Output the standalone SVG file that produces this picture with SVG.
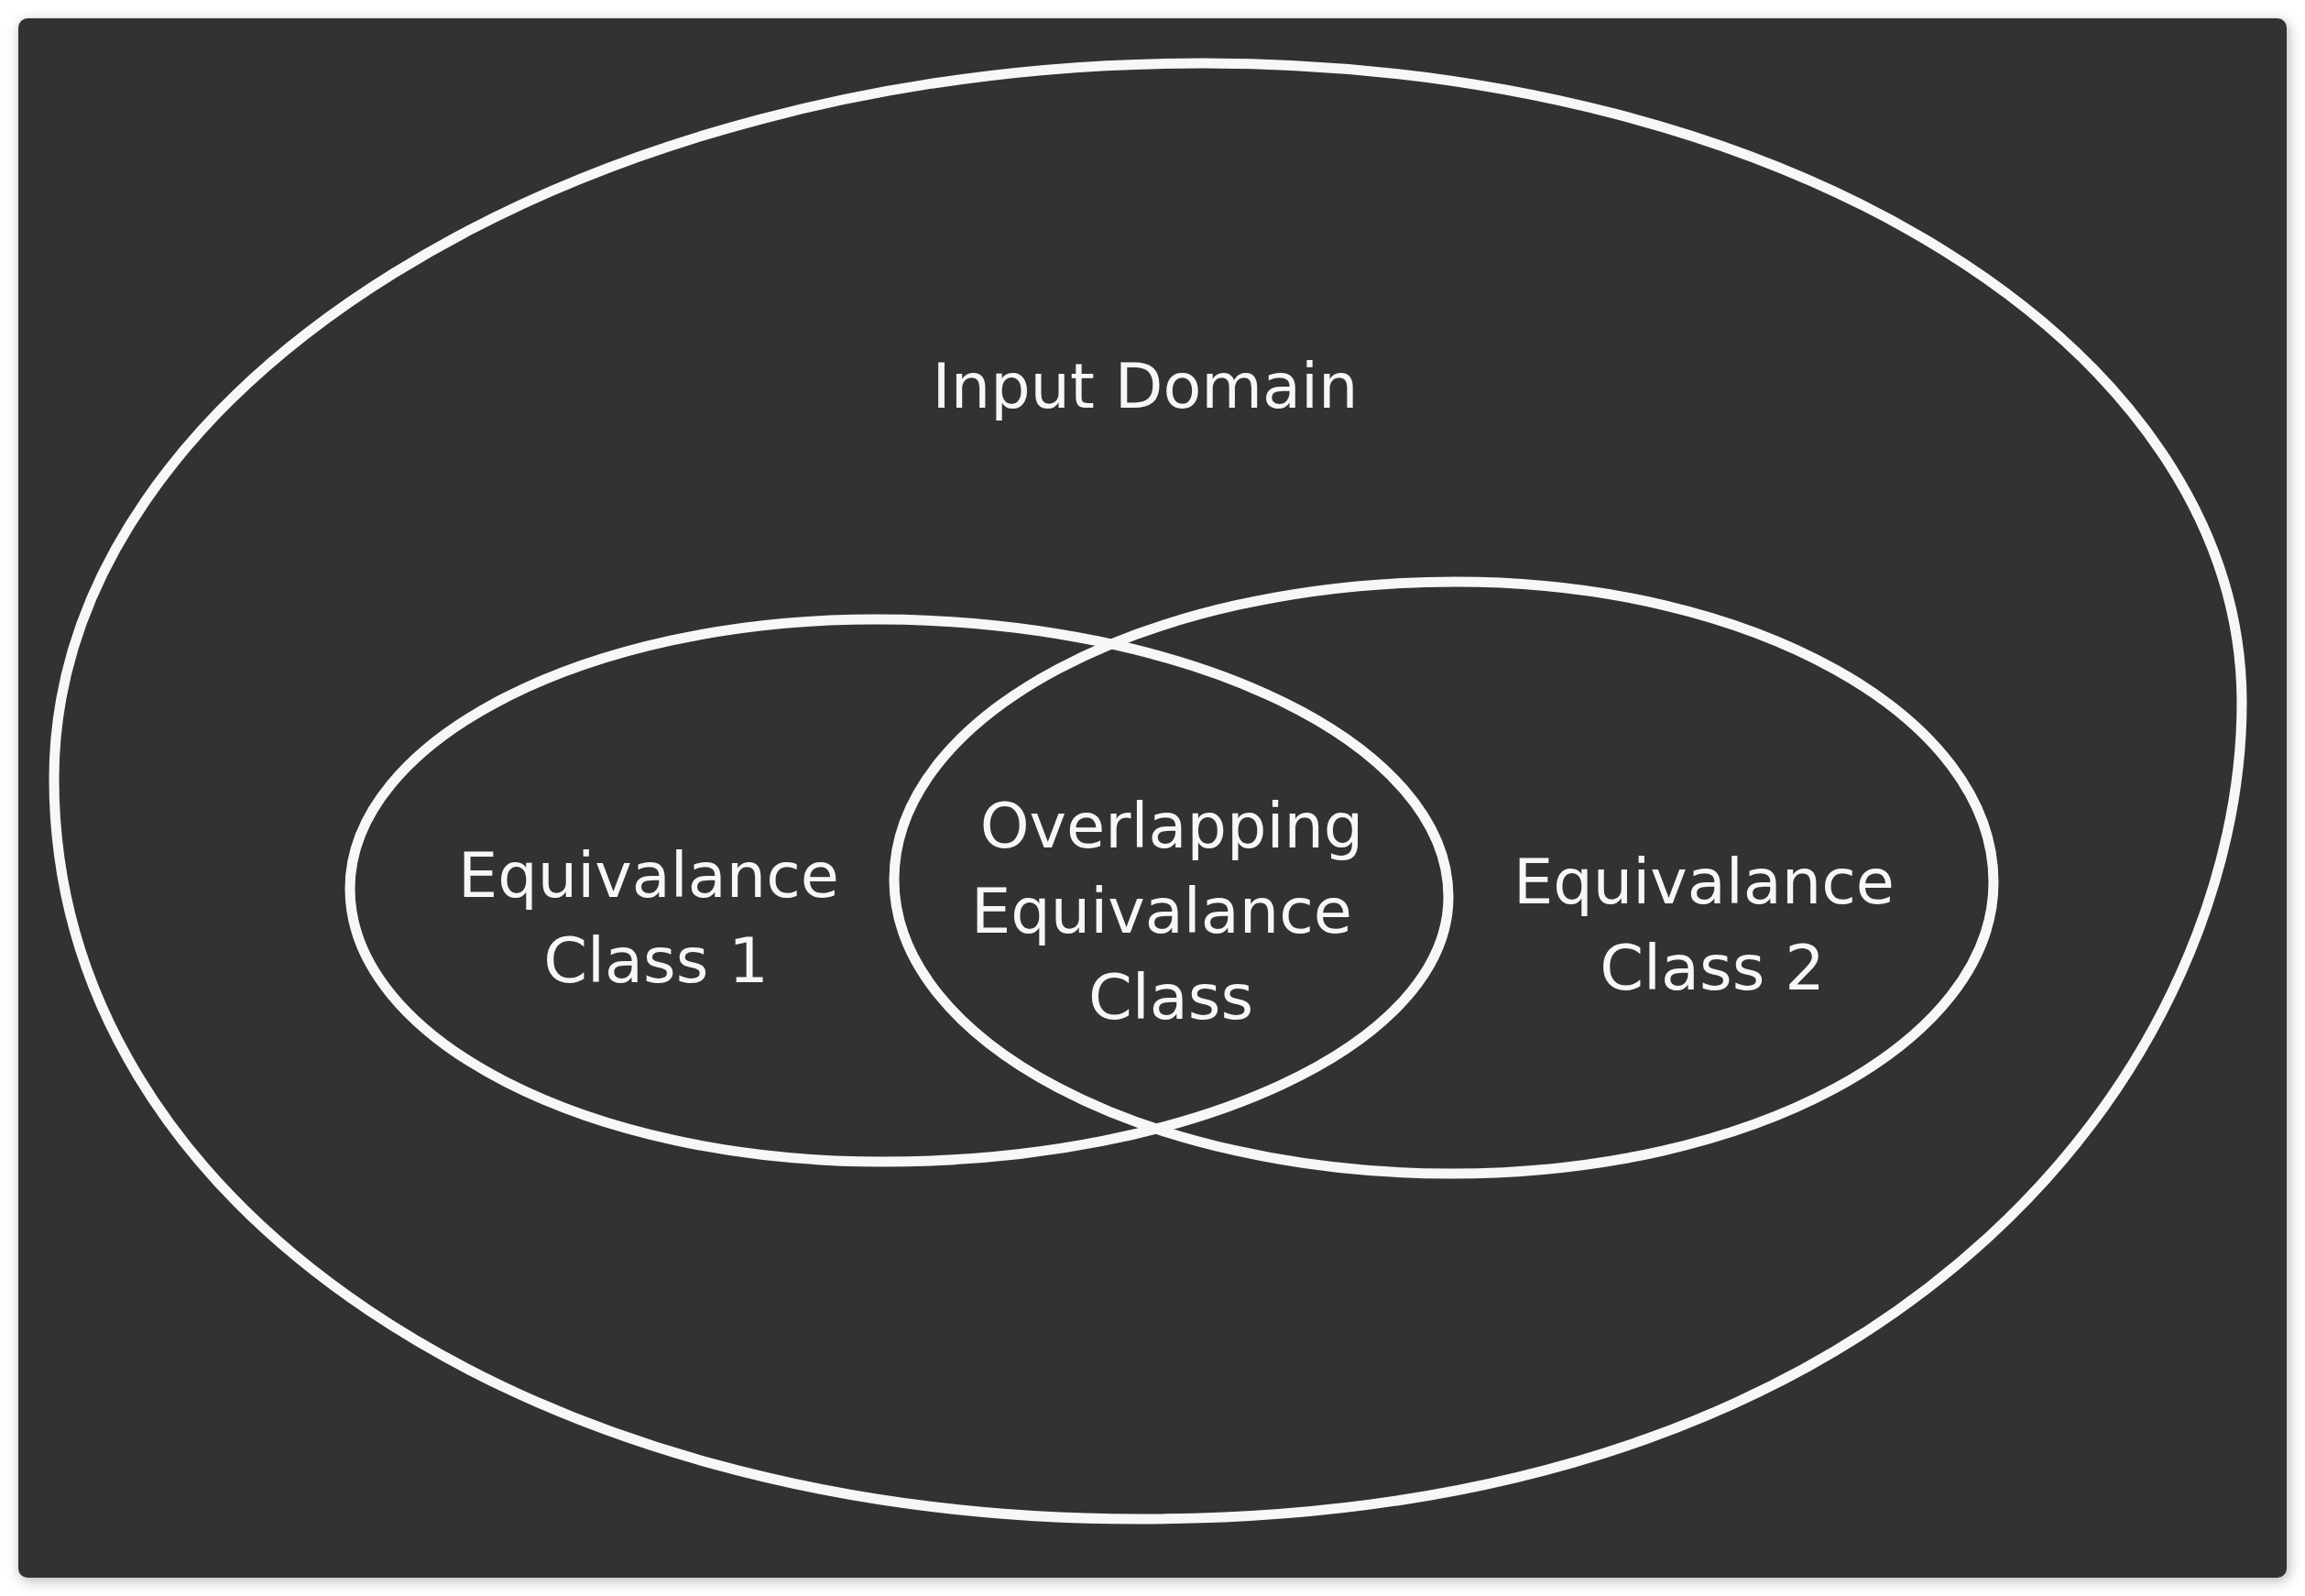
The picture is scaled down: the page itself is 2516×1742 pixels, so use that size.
<svg xmlns="http://www.w3.org/2000/svg" width="2516" height="1742" viewBox="0 0 2516 1742">
  <defs>
    <filter id="shadow" x="-5%" y="-5%" width="110%" height="110%">
      <feDropShadow dx="2" dy="3" stdDeviation="7" flood-color="#000" flood-opacity="0.3"/>
    </filter>
    <style>
      .shape { fill: none; stroke: #f5f8f7; stroke-width: 11; }
      .label { font-family: "DejaVu Sans", sans-serif; font-size: 68.5px; fill: #f5f8f7; text-anchor: middle; }
    </style>
  </defs>
  <rect width="2516" height="1742" fill="#ffffff"/>
  <rect x="20" y="20" width="2476" height="1702" rx="10" ry="10" fill="#333333" filter="url(#shadow)"/>

  <g id="input-domain">
    <path class="shape" d="M 59 850 C 59 420 630 69 1312 69 C 1955 69 2447 380 2447 767 C 2447 1135 2110 1658 1244 1658 C 580 1658 59 1320 59 850 Z"/>
    <text class="label" x="1250" y="445">Input Domain</text>
  </g>

  <g id="class1">
    <path class="shape" d="M 382 970 C 382 808 639 676 955 676 C 1301 676 1581 812 1581 979 C 1581 1139 1304 1268 963 1268 C 642 1268 382 1135 382 970 Z"/>
    <text class="label" x="708" y="979">Equivalance</text>
    <text class="label" x="716" y="1072">Class 1</text>
  </g>

  <g id="class2">
    <path class="shape" d="M 976 960 C 976 780 1250 635 1589 635 C 1913 635 2176 782 2176 963 C 2176 1139 1911 1281 1585 1281 C 1249 1281 976 1137 976 960 Z"/>
    <text class="label" x="1860" y="986">Equivalance</text>
    <text class="label" x="1869" y="1080">Class 2</text>
  </g>

  <g id="overlap">
    <text class="label" x="1279" y="925">Overlapping</text>
    <text class="label" x="1268" y="1018">Equivalance</text>
    <text class="label" x="1278" y="1112">Class</text>
  </g>

  <g id="connectors"></g>
</svg>
